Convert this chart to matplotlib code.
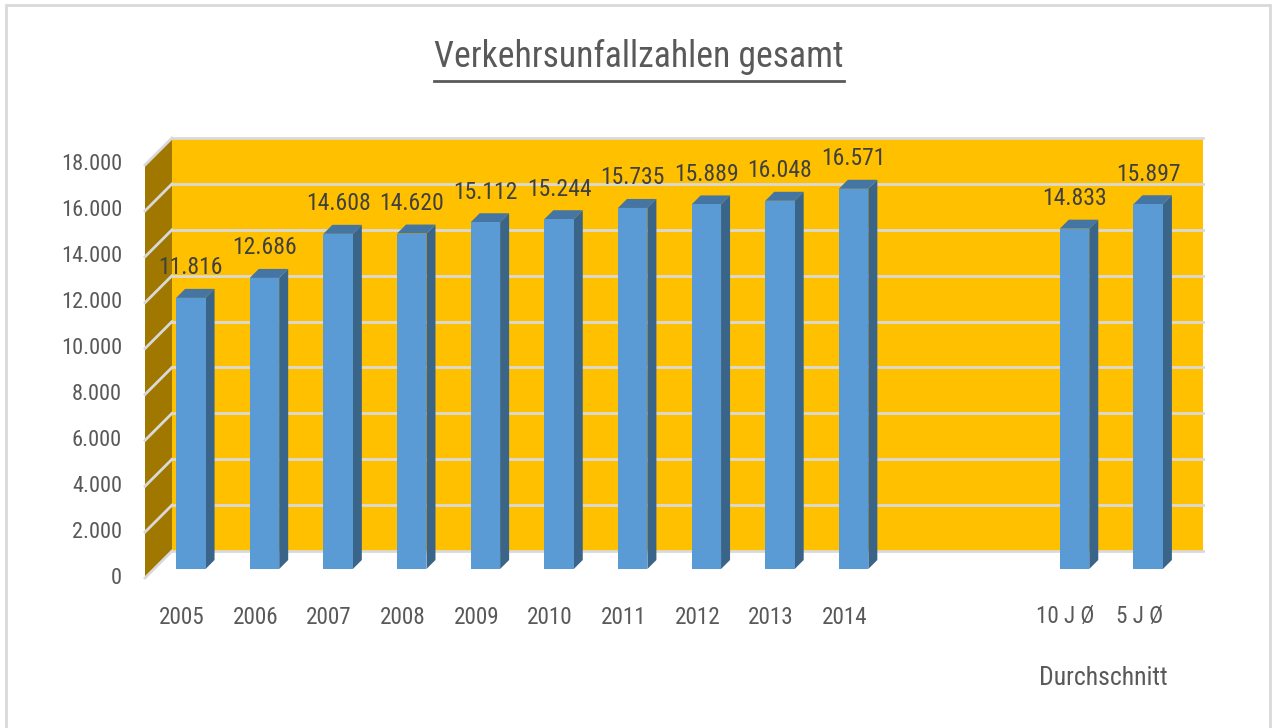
import numpy as np
import matplotlib
matplotlib.use("Agg")
import matplotlib.pyplot as plt
from matplotlib import font_manager
from matplotlib.patches import Polygon, Rectangle
from matplotlib.lines import Line2D


categories = ["2005", "2006", "2007", "2008", "2009", "2010", "2011",
              "2012", "2013", "2014", "10 J Ø", "5 J Ø"]
values = [11816, 12686, 14608, 14620, 15112, 15244, 15735,
          15889, 16048, 16571, 14833, 15897]
value_labels = ["11.816", "12.686", "14.608", "14.620", "15.112", "15.244",
                "15.735", "15.889", "16.048", "16.571", "14.833", "15.897"]
positions = [0, 1, 2, 3, 4, 5, 6, 7, 8, 9, 12, 13]
y_ticks = [0, 2000, 4000, 6000, 8000, 10000, 12000, 14000, 16000, 18000]
y_tick_labels = ["0", "2.000", "4.000", "6.000", "8.000", "10.000",
                 "12.000", "14.000", "16.000", "18.000"]
title = "Verkehrsunfallzahlen gesamt"
group_label = "Durchschnitt"

WALL = "#FFC000"
SIDE_WALL = "#A07800"
GRID = "#D9D9D9"
BAR_FRONT = "#5B9BD5"
BAR_SIDE = "#3A6589"
BAR_TOP = "#4475A3"
TEXT = "#595959"
TEXT_DARK = "#404040"

# pick the narrowest sans available (closest to the squeezed Calibri look)
names = {f.name for f in font_manager.fontManager.ttflist}
FONT, k = ["Liberation Sans", "DejaVu Sans"], 0.88
for cand, kk in [("Liberation Sans Narrow", 1.0), ("Roboto Condensed", 0.95),
                 ("Open Sans Condensed", 0.95)]:
    if cand in names:
        FONT, k = [cand, "DejaVu Sans"], kk
        break
plt.rcParams["font.family"] = FONT

W, H = 1274, 728
fig = plt.figure(figsize=(W / 100, H / 100), dpi=100)
fig.patch.set_facecolor("white")

# axes = front plane of the bars
ax = fig.add_axes([154 / W, (H - 569) / H, (1185 - 154) / W, (569 - 156) / H])
ax.set_xlim(-0.5, 13.5)
ax.set_ylim(0, 18000)
ax.axis("off")

# depth of 9 px expressed in data units
inv = ax.transData.inverted()
p0 = inv.transform((0, 0))
p1 = inv.transform((9, 9))
dx, dy = p1 - p0

x0, x1 = -0.5, 13.5
top = y_ticks[-1]

# back wall
ax.add_patch(Rectangle((x0 + 2 * dx, 2 * dy), x1 - x0, top, facecolor=WALL,
                       edgecolor="none", clip_on=False, zorder=1))
for t in y_ticks:
    ax.add_line(Line2D([x0 + 2 * dx, x1 + 2 * dx], [t + 2 * dy, t + 2 * dy],
                       color=GRID, lw=2, clip_on=False, zorder=2))

# side wall
ax.add_patch(Polygon([(x0 - dx, -dy), (x0 - dx, top - dy),
                      (x0 + 2 * dx, top + 2 * dy), (x0 + 2 * dx, 2 * dy)],
                     closed=True, facecolor=SIDE_WALL, edgecolor="none",
                     clip_on=False, zorder=3))
for t in y_ticks:
    ax.add_line(Line2D([x0 - dx, x0 + 2 * dx], [t - dy, t + 2 * dy],
                       color=GRID, lw=2, clip_on=False, zorder=4))

# bars
bw = 0.4
for p, v, lab in zip(positions, values, value_labels):
    l, r = p - bw / 2, p + bw / 2
    ax.add_patch(Polygon([(r, 0), (r + dx, dy), (r + dx, v + dy), (r, v)],
                         closed=True, facecolor=BAR_SIDE, edgecolor="none",
                         clip_on=False, zorder=5))
    ax.add_patch(Polygon([(l, v), (r, v), (r + dx, v + dy), (l + dx, v + dy)],
                         closed=True, facecolor=BAR_TOP, edgecolor="none",
                         clip_on=False, zorder=5))
    ax.bar(p, v, width=bw, color=BAR_FRONT, clip_on=False, zorder=6)
    ax.annotate(lab, (p, v), xytext=(0, 30), textcoords="offset pixels",
                ha="center", va="center", fontsize=18 * k, color=TEXT_DARK,
                zorder=7, annotation_clip=False)

# value axis labels on the front edge of the side wall
for t, lab in zip(y_ticks, y_tick_labels):
    ax.annotate(lab, (x0 - dx, t - dy), xytext=(-23, 0),
                textcoords="offset pixels", ha="right", va="center",
                fontsize=17 * k, color=TEXT, annotation_clip=False)

# category labels
for p, c in zip(positions, categories):
    ax.annotate(c, (p - dx, -dy), xytext=(0, -39), textcoords="offset pixels",
                ha="center", va="center", fontsize=17.5 * k, color=TEXT,
                annotation_clip=False)
ax.annotate(group_label, (12.5 - dx, -dy), xytext=(1, -100),
            textcoords="offset pixels", ha="center", va="center",
            fontsize=19.5 * k, color=TEXT, annotation_clip=False)

# title with underline
ttl = fig.text(639 / W, 1 - 57 / H, title, ha="center", va="center",
               fontsize=27 * k, color=TEXT)
renderer = fig.canvas.get_renderer()
bb = ttl.get_window_extent(renderer)
fig.add_artist(Line2D([bb.x0 / W, bb.x1 / W], [1 - 81 / H, 1 - 81 / H],
                      transform=fig.transFigure, color=TEXT, lw=2))

# chart frame
fig.add_artist(Rectangle((6 / W, -0.01), (1270 - 6) / W, 1 - 5 / H + 0.01,
                         transform=fig.transFigure, fill=False,
                         edgecolor=GRID, lw=2))

fig.savefig("out.png", dpi=100, facecolor="white")
